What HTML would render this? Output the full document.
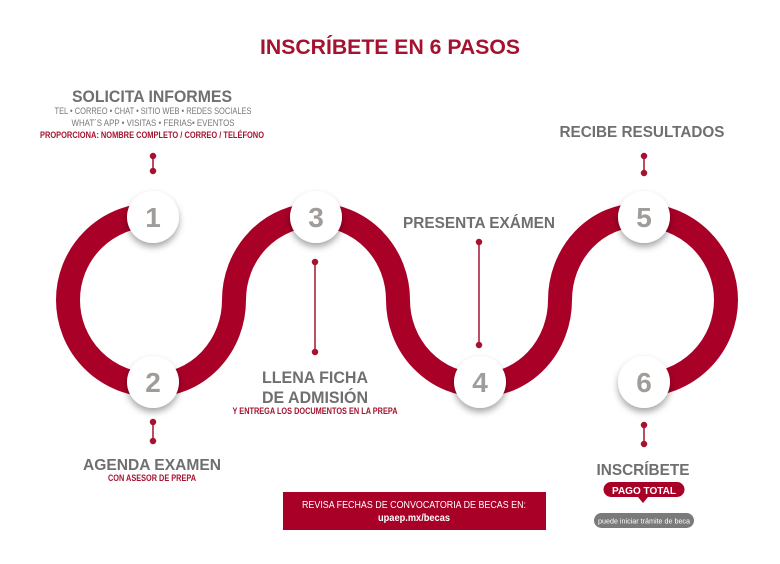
<!DOCTYPE html>
<html><head><meta charset="utf-8"><style>
html,body{margin:0;padding:0;background:#fff;width:780px;height:564px;overflow:hidden}
svg{display:block}
text{font-family:"Liberation Sans",sans-serif}
</style></head><body>
<svg width="780" height="564" viewBox="0 0 780 564" xmlns="http://www.w3.org/2000/svg">
<defs>
<filter id="sh" x="-40%" y="-40%" width="180%" height="190%">
<feDropShadow dx="0" dy="4" stdDeviation="3.5" flood-color="#000" flood-opacity="0.35"/>
</filter>
</defs>
<rect width="780" height="564" fill="#fff"/>
<text x="390" y="54" text-anchor="middle" font-size="21" font-weight="bold" fill="#a5122f" textLength="260" lengthAdjust="spacingAndGlyphs">INSCRÍBETE EN 6 PASOS</text>

<path d="M153,215 A85,85 0 0 0 153,385 A81,85 0 0 0 234,300 A82,85 0 0 1 316,215 A82,85 0 0 1 398,300 A82,85 0 0 0 480,385 A80,85 0 0 0 560,300 A80,85 0 0 1 640,215 A86,85 0 0 1 640,385" fill="none" stroke="#a80027" stroke-width="24"/>

<g fill="#a5122f" stroke="#a5122f" stroke-width="1.5">
<line x1="153" y1="156" x2="153" y2="171"/><circle cx="153" cy="156" r="2.5"/><circle cx="153" cy="171" r="2.5"/>
<line x1="153" y1="422" x2="153" y2="441"/><circle cx="153" cy="422" r="2.5"/><circle cx="153" cy="441" r="2.5"/>
<line x1="315" y1="262" x2="315" y2="352"/><circle cx="315" cy="262" r="2.5"/><circle cx="315" cy="352" r="2.5"/>
<line x1="479" y1="242" x2="479" y2="345"/><circle cx="479" cy="242" r="2.5"/><circle cx="479" cy="345" r="2.5"/>
<line x1="644" y1="156" x2="644" y2="173"/><circle cx="644" cy="156" r="2.5"/><circle cx="644" cy="173" r="2.5"/>
<line x1="644" y1="425" x2="644" y2="444"/><circle cx="644" cy="425" r="2.5"/><circle cx="644" cy="444" r="2.5"/>
</g>

<g filter="url(#sh)" fill="#fff">
<circle cx="153" cy="217" r="26"/>
<circle cx="153" cy="382" r="26"/>
<circle cx="316" cy="217" r="26"/>
<circle cx="480" cy="382" r="26"/>
<circle cx="644" cy="217" r="26"/>
<circle cx="644" cy="382" r="26"/>
</g>
<g font-size="28" font-weight="bold" fill="#a09c99" text-anchor="middle">
<text x="153" y="227">1</text>
<text x="153" y="392">2</text>
<text x="316" y="227">3</text>
<text x="480" y="392">4</text>
<text x="644" y="227">5</text>
<text x="644" y="392">6</text>
</g>

<g font-weight="bold" fill="#6f6f6f" text-anchor="middle">
<text x="152" y="102" font-size="17" textLength="160" lengthAdjust="spacingAndGlyphs">SOLICITA INFORMES</text>
<text x="152" y="470" font-size="16" textLength="138" lengthAdjust="spacingAndGlyphs">AGENDA EXAMEN</text>
<text x="315" y="383" font-size="17" textLength="106" lengthAdjust="spacingAndGlyphs">LLENA FICHA</text>
<text x="315" y="403" font-size="17" textLength="106" lengthAdjust="spacingAndGlyphs">DE ADMISIÓN</text>
<text x="479" y="228" font-size="16" textLength="152" lengthAdjust="spacingAndGlyphs">PRESENTA EXÁMEN</text>
<text x="642" y="137" font-size="16" textLength="165" lengthAdjust="spacingAndGlyphs">RECIBE RESULTADOS</text>
<text x="643" y="475" font-size="16" textLength="93" lengthAdjust="spacingAndGlyphs">INSCRÍBETE</text>
</g>
<g font-size="9.5" fill="#777" text-anchor="middle">
<text x="153" y="114" textLength="197" lengthAdjust="spacingAndGlyphs">TEL •  CORREO • CHAT • SITIO WEB • REDES SOCIALES</text>
<text x="153" y="126" textLength="163" lengthAdjust="spacingAndGlyphs">WHAT´S APP • VISITAS • FERIAS• EVENTOS</text>
</g>
<g font-size="9.5" font-weight="bold" fill="#a5122f" text-anchor="middle">
<text x="152" y="138" textLength="224" lengthAdjust="spacingAndGlyphs">PROPORCIONA: NOMBRE COMPLETO / CORREO / TELÉFONO</text>
<text x="152" y="481" font-size="9" textLength="88" lengthAdjust="spacingAndGlyphs">CON ASESOR DE PREPA</text>
<text x="315" y="414" font-size="9" textLength="165" lengthAdjust="spacingAndGlyphs">Y ENTREGA LOS DOCUMENTOS EN LA PREPA</text>
</g>

<path d="M611,482 H677 A7.5,7.5 0 0 1 677,497 H648 L643,503 L638,497 H611 A7.5,7.5 0 0 1 611,482 Z" fill="#a80027"/>
<text x="644" y="494" text-anchor="middle" font-size="10" font-weight="bold" fill="#fff" textLength="64" lengthAdjust="spacingAndGlyphs">PAGO TOTAL</text>
<rect x="594" y="513" width="100" height="15" rx="7.5" fill="#7a7a7a"/>
<text x="644" y="523.5" text-anchor="middle" font-size="7.5" fill="#fff" textLength="92" lengthAdjust="spacingAndGlyphs">puede iniciar trámite de beca</text>

<rect x="283" y="492" width="263" height="38" fill="#a80027"/>
<text x="414" y="508" text-anchor="middle" font-size="10" fill="#fff" textLength="224" lengthAdjust="spacingAndGlyphs">REVISA FECHAS DE CONVOCATORIA DE BECAS EN:</text>
<text x="414" y="521" text-anchor="middle" font-size="10" font-weight="bold" fill="#fff" textLength="72" lengthAdjust="spacingAndGlyphs">upaep.mx/becas</text>
</svg>
</body></html>
